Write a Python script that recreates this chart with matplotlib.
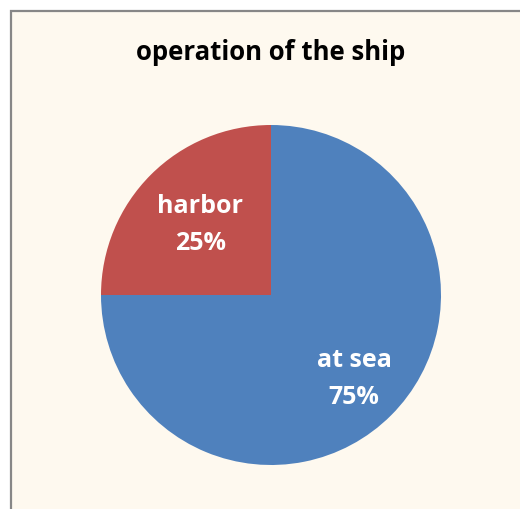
import numpy as np
import matplotlib.pyplot as plt
from matplotlib.patches import Rectangle

labels = ['at sea', 'harbor']
shares = [75, 25]
colors = ['#4F81BD', '#C0504D']

W, H = 520, 510
fig = plt.figure(figsize=(W / 100, H / 100), dpi=100, facecolor='white')

# chart area: cream panel with grey border running off the right/bottom edge
fig.patches.append(Rectangle((11 / W, -0.1), 1.2, 1 - 12 / H + 0.1,
                             transform=fig.transFigure, facecolor='#FEF9EF',
                             edgecolor='#878787', linewidth=1.6, zorder=-5))

cx, cy, r = 271, H - 296, 170
ax = fig.add_axes([(cx - r) / W, (cy - r) / H, 2 * r / W, 2 * r / H])
ax.set_facecolor('none')

wedges, _ = ax.pie(shares, colors=colors, startangle=90, counterclock=False, radius=1)

# labels inside each wedge: name + percentage
total = sum(shares)
for w, lab, val, dist in zip(wedges, labels, shares, [0.69, 0.59]):
    mid = np.deg2rad((w.theta1 + w.theta2) / 2)
    ax.text(dist * np.cos(mid), dist * np.sin(mid), f'{lab}\n{val / total * 100:.0f}%',
            ha='center', va='center', color='white', fontsize=18, fontweight='bold',
            family='Open Sans', linespacing=1.6)

ax.set_xlim(-1, 1)
ax.set_ylim(-1, 1)
ax.set_aspect('auto')
ax.axis('off')

fig.text(cx / W, 1 - 52 / H, 'operation of the ship', ha='center', va='center',
         fontsize=18.5, fontweight='bold', family='Open Sans', color='black')

fig.savefig('out.png', dpi=100, facecolor='white')
